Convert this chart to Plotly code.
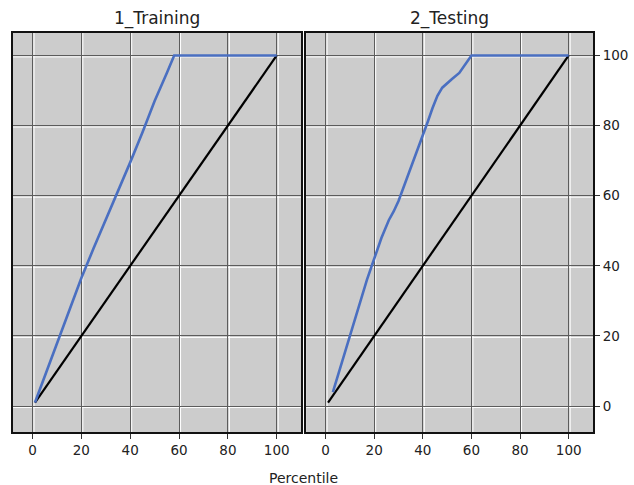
import plotly.graph_objects as go

# ---- data ----
panel_titles = ["1_Training", "2_Testing"]
tick_vals = [0, 20, 40, 60, 80, 100]

baseline_x = [1, 100]
baseline_y = [1, 100]

train_x = [1, 5, 10, 15, 20, 25, 30, 35, 40, 45, 50, 55, 58, 100]
train_y = [1, 8.5, 18, 27.5, 36.5, 45, 53, 61.5, 69.5, 78, 87, 95, 100, 100]

test_x = [3, 6, 10, 14, 17, 20, 23, 26, 28, 30, 33, 36, 39, 42, 44, 46, 48, 50, 52, 55, 58, 60, 100]
test_y = [4, 11, 20, 29.5, 36, 42, 48, 53, 55.5, 58.5, 64, 69.5, 75.5, 81, 85, 88.5, 90.8, 92.2, 93.3, 95, 98, 100, 100]

x_range = [-8, 110]
y_range = [-7.4, 106.4]

BLUE = "#4a6fc1"
FONT = "DejaVu Sans"

fig = go.Figure()

for xa, ya, cx, cy in [("x", "y", train_x, train_y), ("x2", "y2", test_x, test_y)]:
    fig.add_trace(go.Scatter(x=baseline_x, y=baseline_y, mode="lines", xaxis=xa, yaxis=ya,
                             line=dict(color="black", width=2.2), showlegend=False, hoverinfo="skip"))
    fig.add_trace(go.Scatter(x=cx, y=cy, mode="lines", xaxis=xa, yaxis=ya,
                             line=dict(color=BLUE, width=2.6), showlegend=False))

axis_common = dict(showline=True, mirror=True, linecolor="#111", linewidth=2,
                   showgrid=True, gridcolor="#5c5c5c", gridwidth=1, zeroline=False,
                   tickvals=tick_vals, fixedrange=True, automargin=False,
                   tickfont=dict(family=FONT, size=13.5, color="#222"))

dom1 = [0, 0.4968]
dom2 = [0.5054, 1]

fig.update_layout(
    width=634, height=485,
    margin=dict(l=13, r=41, t=33, b=53),
    paper_bgcolor="white", plot_bgcolor="#cccccc",
    xaxis=dict(domain=dom1, range=x_range, anchor="y", ticks="outside", ticklen=5,
               tickcolor="#333", **axis_common),
    yaxis=dict(domain=[0, 1], range=y_range, anchor="x", ticks="", showticklabels=False, **axis_common),
    xaxis2=dict(domain=dom2, range=x_range, anchor="y2", ticks="outside", ticklen=5,
                tickcolor="#333", **axis_common),
    yaxis2=dict(domain=[0, 1], range=y_range, anchor="x2", side="right", ticks="outside",
                ticklen=5, tickcolor="#333", **axis_common),
)

# white highlight next to each grid line (embossed grid look)
shapes = []
for xr, yr in [("x", "y"), ("x2", "y2")]:
    for v in tick_vals:
        shapes.append(dict(type="line", xref=xr, xsizemode="pixel", xanchor=v, x0=1.5, x1=1.5,
                           yref=yr + " domain", y0=0, y1=1, layer="below",
                           line=dict(color="white", width=1)))
        shapes.append(dict(type="line", yref=yr, ysizemode="pixel", yanchor=v, y0=-1.5, y1=-1.5,
                           xref=xr + " domain", x0=0, x1=1, layer="below",
                           line=dict(color="white", width=1)))
fig.update_layout(shapes=shapes)

annotations = []
for title, dom in zip(panel_titles, [dom1, dom2]):
    annotations.append(dict(text=title, xref="paper", yref="paper", x=(dom[0] + dom[1]) / 2,
                            y=1.037, xanchor="center", yanchor="middle", showarrow=False,
                            font=dict(family=FONT, size=17, color="#222")))
annotations.append(dict(text="Percentile", xref="paper", yref="paper", x=0.5, y=-0.116,
                        xanchor="center", yanchor="middle", showarrow=False,
                        font=dict(family=FONT, size=14, color="#222")))
fig.update_layout(annotations=annotations)

fig.write_html("out.html", config={"displayModeBar": False},
               post_script="document.body.style.margin='0';document.body.style.overflow='hidden';")
